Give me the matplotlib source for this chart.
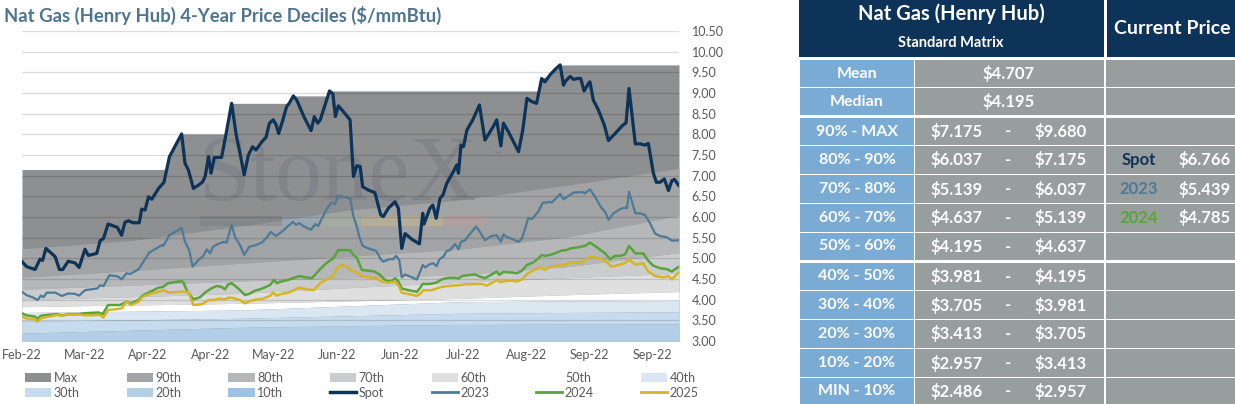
import matplotlib
matplotlib.use('Agg')
import matplotlib.pyplot as plt
from matplotlib.patches import Patch, Rectangle
from matplotlib.lines import Line2D

plt.rcParams['font.family'] = ['Lato', 'DejaVu Sans']

# ---- x axis: trading-day index, a label every 15 days ----
tick_days = [0, 15, 30, 45, 60, 75, 90, 105, 120, 135, 150]
tick_labels = ['Feb-22', 'Mar-22', 'Apr-22', 'Apr-22', 'May-22', 'Jun-22',
               'Jun-22', 'Jul-22', 'Aug-22', 'Sep-22', 'Sep-22']
last_day = 156.4

# ---- price lines ----
spot_day = [0, 1.1, 3.1, 4.3, 4.9, 5.7, 6.7, 7.9, 8.9, 9.7, 11.0, 12.6, 13.6, 15.0, 15.8,
            17.8, 18.6, 19.4, 20.5, 22.7, 23.7, 24.5, 25.3, 26.5, 27.9, 28.5, 29.3, 30.1,
            30.9, 32.5, 33.8, 35.1, 38.0, 38.8, 39.6, 40.8, 42.0, 43.0, 43.6, 44.4, 45.0,
            45.8, 47.5, 48.3, 49.9, 51.0, 51.9, 52.9, 53.9, 54.9, 55.7, 57.1, 58.1, 58.9,
            59.8, 60.5, 61.1, 62.1, 63.0, 63.6, 64.6, 65.4, 67.1, 68.8, 69.6, 70.4, 71.0,
            73.2, 74.0, 74.6, 75.3, 76.5, 78.1, 78.9, 79.7, 80.5, 81.1, 82.5, 84.0, 85.4,
            86.0, 87.2, 88.8, 89.6, 90.4, 91.2, 92.8, 94.6, 95.4, 95.7, 97.1, 97.8, 98.6,
            99.5, 100.2, 101.1, 102.7, 103.5, 103.9, 104.5, 105.1, 105.9, 107.3, 108.9,
            110.2, 112.2, 113.0, 114.0, 114.6, 115.8, 118.2, 119.2, 120.2, 121.4, 122.5,
            123.7, 124.5, 125.7, 126.9, 128.1, 128.9, 129.5, 130.5, 131.3, 132.2, 133.0,
            133.8, 134.8, 135.2, 136.0, 137.2, 138.6, 139.6, 141.2, 142.8, 143.8, 144.5,
            146.0, 147.1, 148.3, 149.1, 150.3, 151.0, 151.9, 152.9, 153.9, 154.7, 155.3, 156.3]
spot = [4.92, 4.80, 4.73, 4.98, 4.95, 5.24, 5.15, 5.04, 4.73, 4.73, 4.93, 4.89, 4.78, 5.22, 5.07,
        5.12, 5.43, 5.48, 5.83, 5.75, 5.56, 5.87, 5.91, 5.86, 5.86, 6.19, 6.17, 6.49,
        6.43, 6.69, 6.84, 7.46, 8.01, 7.30, 7.14, 6.69, 6.77, 6.85, 6.98, 7.46, 7.06,
        7.44, 7.44, 7.86, 8.75, 7.98, 7.54, 7.02, 7.50, 7.70, 7.62, 7.82, 7.93, 8.27,
        8.35, 8.23, 8.02, 8.35, 8.67, 8.75, 8.93, 8.83, 8.43, 8.09, 8.43, 8.27, 8.35,
        9.05, 8.98, 8.43, 8.69, 8.55, 8.35, 6.98, 7.24, 7.22, 6.73, 6.65, 6.59, 6.05,
        6.01, 6.21, 6.37, 6.21, 5.24, 5.60, 5.46, 5.35, 6.09, 5.83, 6.21, 6.29, 5.97,
        6.45, 6.53, 6.81, 7.10, 7.26, 7.06, 7.74, 7.70, 8.10, 8.35, 8.71,
        7.86, 8.19, 8.35, 7.72, 8.27, 8.06, 7.58, 8.10, 8.87, 8.79, 8.75,
        9.35, 9.27, 9.44, 9.57, 9.68, 9.19, 9.30, 9.40, 9.33, 9.35, 9.35,
        9.05, 9.22, 9.27, 8.83, 8.59, 8.23, 7.85, 8.02, 8.20, 8.28, 9.11,
        7.77, 7.77, 7.74, 7.78, 7.06, 6.84, 6.84, 6.92, 6.64, 6.88, 6.91, 6.77]

y2023_day = [0, 1.1, 2.7, 3.7, 4.5, 5.1, 5.9, 7.9, 9.5, 11.0, 12.6, 13.6, 15.0, 17.9, 18.6,
             19.4, 20.8, 22.4, 22.9, 23.7, 24.9, 25.7, 27.7, 29.3, 30.3, 33.3, 33.6, 35.1,
             38.0, 38.8, 39.8, 40.6, 42.0, 43.2, 44.0, 44.8, 45.5, 46.7, 48.1, 48.7, 49.9,
             50.7, 51.9, 52.9, 54.1, 55.7, 57.1, 58.4, 59.2, 60.4, 61.8, 63.2, 64.5, 65.2,
             66.0, 67.0, 68.8, 69.8, 70.5, 72.5, 73.7, 74.5, 75.3, 76.5, 78.1, 78.9, 79.7,
             80.3, 81.1, 82.5, 84.3, 85.4, 86.0, 87.5, 88.4, 89.0, 89.8, 90.4, 91.2, 92.8,
             94.0, 94.8, 95.4, 96.0, 97.1, 97.9, 98.7, 99.4, 100.3, 101.1, 101.9, 103.1,
             103.9, 104.5, 105.5, 106.7, 108.1, 109.0, 110.2, 111.8, 113.0, 114.0, 114.6,
             115.4, 116.6, 118.2, 119.0, 119.8, 120.5, 121.4, 122.9, 124.0, 124.9, 125.5,
             126.1, 127.3, 128.1, 128.9, 130.1, 131.3, 132.5, 133.6, 134.0, 135.2, 136.4,
             138.0, 138.8, 139.6, 140.8, 142.4, 143.6, 144.0, 144.5, 146.0, 147.1, 148.3,
             149.5, 150.7, 151.9, 153.5, 154.7, 155.9, 156.3]
y2023 = [4.19, 4.11, 4.05, 3.99, 4.10, 4.06, 4.17, 4.17, 4.09, 4.15, 4.14, 4.10, 4.23, 4.27, 4.35,
         4.33, 4.59, 4.57, 4.56, 4.49, 4.64, 4.62, 4.73, 4.98, 5.14, 5.32, 5.30, 5.56,
         5.73, 5.40, 5.20, 4.80, 4.96, 5.06, 5.22, 5.12, 5.28, 5.35, 5.40, 5.38, 5.81,
         5.52, 5.32, 5.08, 5.28, 5.32, 5.38, 5.52, 5.64, 5.54, 5.64, 5.77, 5.88, 5.81,
         5.85, 5.78, 5.69, 5.83, 5.78, 6.19, 6.35, 6.31, 6.52, 6.49, 6.45, 6.01, 5.77,
         5.52, 5.30, 5.24, 5.18, 4.98, 4.92, 4.98, 4.98, 5.06, 4.96, 4.54, 4.61, 4.54,
         4.49, 4.68, 4.84, 4.78, 4.86, 4.88, 4.81, 4.98, 5.04, 5.18, 5.20, 5.35,
         5.22, 5.40, 5.44, 5.60, 5.77, 5.64, 5.44, 5.54, 5.56, 5.40, 5.58,
         5.52, 5.47, 5.40, 5.48, 5.73, 5.97, 5.95, 6.13, 6.35, 6.35, 6.37,
         6.35, 6.47, 6.56, 6.43, 6.51, 6.59, 6.60, 6.60, 6.57, 6.67, 6.49,
         6.21, 6.13, 5.93, 6.09, 6.19, 6.23, 6.21, 6.61, 6.09, 6.09, 6.05,
         5.85, 5.60, 5.54, 5.51, 5.43, 5.43, 5.44]

y2024_day = [0, 1.1, 3.1, 3.6, 4.5, 5.9, 8.3, 9.5, 11.0, 13.4, 14.6, 18.2, 19.2, 20.5, 23.3,
             24.9, 25.9, 27.7, 28.7, 30.5, 32.5, 33.6, 34.8, 38.0, 38.4, 39.4, 40.8, 42.4,
             43.8, 45.2, 46.4, 47.5, 48.3, 49.1, 49.9, 51.5, 53.1, 54.3, 55.5, 56.7, 59.0,
             60.0, 60.6, 61.8, 63.4, 65.0, 66.2, 67.6, 69.0, 70.8, 72.5, 74.1, 75.3, 78.1,
             78.9, 79.7, 80.9, 82.5, 84.0, 85.2, 86.7, 88.0, 88.8, 89.6, 90.4, 92.0, 94.0,
             94.8, 95.4, 97.1, 98.6, 99.9, 101.5, 103.3, 103.9, 104.7, 105.9, 107.9, 109.0,
             110.2, 111.8, 113.0, 113.6, 114.6, 116.2, 117.8, 119.0, 120.2, 121.7, 122.9,
             123.7, 124.5, 125.7, 127.3, 128.5, 129.7, 130.5, 132.5, 134.0, 135.2, 136.4,
             138.8, 140.0, 141.2, 142.4, 143.6, 144.5, 146.0, 147.9, 149.1, 150.3, 151.9,
             153.5, 154.7, 155.5, 156.3]
y2024 = [3.67, 3.62, 3.59, 3.53, 3.61, 3.63, 3.65, 3.62, 3.65, 3.65, 3.67, 3.69, 3.65, 3.87, 3.87,
         3.95, 3.91, 3.99, 4.10, 4.19, 4.29, 4.31, 4.40, 4.45, 4.42, 4.19, 4.01, 4.06,
         4.19, 4.28, 4.33, 4.31, 4.25, 4.37, 4.40, 4.27, 4.11, 4.15, 4.22, 4.25, 4.35,
         4.48, 4.40, 4.44, 4.48, 4.54, 4.57, 4.54, 4.52, 4.72, 4.89, 5.00, 5.20, 5.20,
         5.08, 5.02, 4.72, 4.70, 4.68, 4.60, 4.45, 4.45, 4.52, 4.44, 4.27, 4.23, 4.19,
         4.29, 4.38, 4.38, 4.41, 4.49, 4.53, 4.53, 4.51, 4.57, 4.59, 4.61, 4.56,
         4.52, 4.61, 4.68, 4.60, 4.67, 4.66, 4.64, 4.70, 4.84, 4.90, 5.00,
         5.08, 5.06, 5.08, 5.14, 5.19, 5.20, 5.24, 5.27, 5.30, 5.38, 5.30,
         5.12, 4.98, 5.06, 5.06, 5.10, 5.30, 5.12, 5.12, 4.94, 4.82, 4.76,
         4.74, 4.68, 4.74, 4.79]

y2025_day = [0, 1.5, 3.1, 3.6, 4.5, 6.3, 8.3, 9.5, 11.0, 13.8, 15.0, 18.6, 19.4, 20.5, 22.4,
             23.7, 24.9, 25.9, 27.7, 28.7, 30.5, 32.5, 33.8, 34.8, 38.0, 39.6, 40.8, 42.8,
             44.4, 45.5, 47.1, 48.3, 49.1, 50.3, 51.9, 53.1, 54.3, 55.7, 57.5, 59.0, 59.8,
             60.6, 61.8, 63.4, 64.6, 65.8, 67.4, 69.4, 71.0, 72.5, 74.0, 74.9, 76.1, 77.3,
             78.5, 79.7, 80.9, 82.5, 84.3, 85.6, 87.2, 88.8, 89.6, 90.4, 92.4, 94.0, 94.8,
             95.6, 97.5, 98.7, 99.9, 101.5, 103.9, 105.5, 107.9, 109.5, 110.6, 112.2, 113.2,
             113.8, 115.0, 116.6, 117.8, 119.0, 120.2, 122.1, 123.3, 124.5, 125.7, 127.3,
             129.3, 130.5, 133.3, 134.3, 135.2, 137.2, 138.8, 140.4, 142.4, 143.6, 144.4,
             146.0, 147.9, 149.1, 150.7, 152.7, 153.9, 154.7, 156.3]
y2025 = [3.59, 3.53, 3.53, 3.47, 3.55, 3.59, 3.63, 3.61, 3.64, 3.64, 3.62, 3.63, 3.57, 3.75, 3.77,
         3.79, 3.95, 3.87, 3.95, 4.07, 4.14, 4.19, 4.23, 4.17, 4.19, 4.19, 3.87, 3.89,
         3.99, 3.99, 4.03, 4.00, 4.05, 4.04, 3.99, 3.91, 3.97, 4.00, 4.03, 4.09, 4.17,
         4.10, 4.14, 4.17, 4.22, 4.29, 4.26, 4.23, 4.40, 4.49, 4.56, 4.76, 4.84, 4.80,
         4.70, 4.66, 4.56, 4.54, 4.52, 4.44, 4.41, 4.44, 4.35, 4.17, 4.13, 4.09, 4.15,
         4.23, 4.23, 4.27, 4.31, 4.33, 4.35, 4.37, 4.38, 4.38, 4.34, 4.42, 4.49,
         4.42, 4.45, 4.46, 4.44, 4.49, 4.62, 4.73, 4.78, 4.72, 4.80, 4.82,
         4.84, 4.90, 4.90, 4.98, 5.04, 5.00, 4.94, 4.80, 4.85, 4.89, 4.98,
         4.85, 4.88, 4.68, 4.57, 4.54, 4.57, 4.49, 4.65]

# ---- decile bands (value of each decile along the period) ----
max_day = [0, 34.4, 35.1, 38.0, 48.6, 49.9, 63.6, 64.6, 72.8, 73.2, 123.1, 123.7, 125.7,
           126.9, 128.1, 156.4]
p_max = [7.15, 7.15, 7.46, 8.01, 8.01, 8.75, 8.75, 8.93, 8.93, 9.05, 9.05, 9.35, 9.44,
         9.57, 9.68, 9.68]
band_day = [0, 26, 52, 78, 104, 130, 156.4]
p90 = [5.23, 5.43, 5.78, 6.17, 6.41, 6.77, 7.175]
p80 = [4.54, 4.70, 4.88, 5.05, 5.22, 5.52, 6.037]
p70 = [4.25, 4.35, 4.45, 4.53, 4.60, 4.80, 5.139]
p60 = [4.00, 4.07, 4.15, 4.29, 4.42, 4.53, 4.637]
p50 = [3.83, 3.87, 3.91, 3.97, 4.03, 4.12, 4.195]
p40 = [3.69, 3.72, 3.75, 3.85, 3.95, 3.97, 3.981]
p30 = [3.48, 3.51, 3.55, 3.61, 3.67, 3.69, 3.705]
p20 = [3.19, 3.26, 3.33, 3.37, 3.40, 3.41, 3.413]
p10 = [2.75, 2.82, 2.88, 2.92, 2.94, 2.95, 2.957]

# ---- matrix table ----
stat_labels = ['Mean', 'Median']
stat_values = ['$4.707', '$4.195']
decile_labels = ['90% - MAX', '80% - 90%', '70% - 80%', '60% - 70%', '50% - 60%',
                 '40% - 50%', '30% - 40%', '20% - 30%', '10% - 20%', 'MIN - 10%']
decile_low = [7.175, 6.037, 5.139, 4.637, 4.195, 3.981, 3.705, 3.413, 2.957, 2.486]
decile_high = [9.680, 7.175, 6.037, 5.139, 4.637, 4.195, 3.981, 3.705, 3.413, 2.957]
current_names = ['', 'Spot', '2023', '2024', '', '', '', '', '', '']
current_prices = [None, 6.766, 5.439, 4.785, None, None, None, None, None, None]

NAVY = '#0d3358'
C2023 = '#4d7a96'
C2024 = '#5aa33c'
C2025 = '#d4b526'
band_colors = {'Max': '#8e8f91', '90th': '#a2a3a5', '80th': '#b6b7b9', '70th': '#cbcccd',
               '60th': '#dfdfe0', '50th': '#ffffff', '40th': '#dae7f2', '30th': '#c6dcee',
               '20th': '#b3cfe7', '10th': '#9dc2e3'}

fig = plt.figure(figsize=(12.35, 4.04), dpi=100)
W, H = 1235, 404
ax = fig.add_axes([22 / W, 63 / H, 657 / W, 310 / H])

# bands
ax.fill_between(max_day, 0, p_max, color=band_colors['Max'], lw=0, zorder=1)
levels = [p90, p80, p70, p60, p50, p40, p30, p20, p10]
names = ['90th', '80th', '70th', '60th', '50th', '40th', '30th', '20th', '10th']
for i, name in enumerate(names):
    lower = levels[i + 1] if i + 1 < len(levels) else [0] * len(band_day)
    ax.fill_between(band_day, lower, levels[i], color=band_colors[name], lw=0, zorder=1)

# watermark
ax.text(0.481, 0.455, 'StoneX', transform=ax.transAxes, ha='center', va='baseline',
        fontsize=67, family='Liberation Serif', color='#6c737a', alpha=0.38, zorder=2.2)
ax.text(0.722, 0.585, '\u2122', transform=ax.transAxes, ha='center', va='baseline',
        fontsize=9, color='#6c737a', alpha=0.35, zorder=2.2)
bar_edges = [0.271, 0.396, 0.457, 0.518, 0.641, 0.705]
bar_cols = ['#6f757b', '#8fb0cc', '#a9c49a', '#e4c77a', '#d69494']
for x0, x1, c in zip(bar_edges[:-1], bar_edges[1:], bar_cols):
    ax.add_patch(Rectangle((x0, 0.371), x1 - x0, 0.032, transform=ax.transAxes,
                           color=c, alpha=0.3, lw=0, zorder=2.2))

# lines
ax.plot(spot_day, spot, color=NAVY, lw=2.3, zorder=3, solid_joinstyle='round')
ax.plot(y2023_day, y2023, color=C2023, lw=1.6, zorder=3)
ax.plot(y2024_day, y2024, color=C2024, lw=1.8, zorder=3)
ax.plot(y2025_day, y2025, color=C2025, lw=1.8, zorder=3)

ax.set_xlim(0, last_day)
ax.set_ylim(3.0, 10.5)
ax.set_yticks([3.0 + 0.5 * i for i in range(16)])
ax.yaxis.set_major_formatter(matplotlib.ticker.FormatStrFormatter('%.2f'))
ax.yaxis.tick_right()
ax.set_xticks(tick_days)
ax.set_xticklabels(tick_labels)
ax.tick_params(axis='y', length=0, pad=9, labelsize=9, labelcolor='#595959')
ax.tick_params(axis='x', length=0, pad=6, labelsize=9, labelcolor='#595959')
ax.grid(axis='y', color='black', alpha=0.14, lw=0.9)
ax.set_axisbelow(False)
for s in ax.spines.values():
    s.set_visible(False)

# legend in rows of seven
handles = [Patch(color=band_colors[n], lw=0) for n in ['Max'] + names]
handles += [Line2D([], [], color=NAVY, lw=2.5), Line2D([], [], color=C2023, lw=2),
            Line2D([], [], color=C2024, lw=2), Line2D([], [], color=C2025, lw=2)]
labels = ['Max'] + names + ['Spot', '2023', '2024', '2025']
order = [j for i in range(7) for j in (i, i + 7)]
fig.legend([handles[k] for k in order], [labels[k] for k in order], ncol=7,
           loc='upper left', bbox_to_anchor=(25 / W, 1 - 372 / H), frameon=False,
           fontsize=9, handlelength=2.1, handleheight=0.7, handletextpad=0.2,
           columnspacing=3.75, labelspacing=0.22, borderpad=0, borderaxespad=0,
           labelcolor='#595959')

# title
fig.text(4 / W, 1 - 15 / H, 'Nat Gas (Henry Hub) 4-Year Price Deciles ($/mmBtu)',
         ha='left', va='center', fontsize=13.3, fontweight='bold', color='#4d7590')

# ---- table (drawn in pixel space) ----
tax = fig.add_axes([0, 0, 1, 1])
tax.set_xlim(0, W)
tax.set_ylim(H, 0)
tax.axis('off')

BLUE = '#7aabd4'
GRAY = '#989e9d'
tax.add_patch(Rectangle((799, 0), 305, 57, color=NAVY, lw=0))
tax.add_patch(Rectangle((1107, 0), 128, 57, color=NAVY, lw=0))
tax.text(951, 14, 'Nat Gas (Henry Hub)', ha='center', va='center', color='white',
         fontsize=14.5, fontweight='bold')
tax.text(951, 43, 'Standard Matrix', ha='center', va='center', color='white',
         fontsize=10.5, fontweight='bold')
tax.text(1172, 28, 'Current Price', ha='center', va='center', color='white',
         fontsize=14, fontweight='bold')

row_tops = [60, 88, 118, 146, 175, 204, 233, 263, 291, 320, 349, 378]
row_bottoms = [87, 115, 145, 174, 203, 232, 260, 290, 319, 348, 377, 404]
row_labels = stat_labels + decile_labels
name_colors = {'Spot': NAVY, '2023': C2023, '2024': C2024}
for r, (top, bot) in enumerate(zip(row_tops, row_bottoms)):
    h = bot - top
    yc = top + h / 2
    tax.add_patch(Rectangle((800, top), 114, h, color=BLUE, lw=0))
    tax.add_patch(Rectangle((915, top), 189, h, color=GRAY, lw=0))
    tax.add_patch(Rectangle((1106, top), 129, h, color=GRAY, lw=0))
    tax.text(857, yc, row_labels[r], ha='center', va='center', color='white',
             fontsize=11.5, fontweight='bold')
    if r < 2:
        tax.text(1009, yc, stat_values[r], ha='center', va='center', color='white',
                 fontsize=12, fontweight='bold')
        continue
    k = r - 2
    tax.text(957, yc, '$%.3f' % decile_low[k], ha='center', va='center', color='white',
             fontsize=12, fontweight='bold')
    tax.text(1008, yc, '-', ha='center', va='center', color='white',
             fontsize=12, fontweight='bold')
    tax.text(1061, yc, '$%.3f' % decile_high[k], ha='center', va='center', color='white',
             fontsize=12, fontweight='bold')
    if current_prices[k] is not None:
        tax.text(1139, yc, current_names[k], ha='center', va='center',
                 color=name_colors[current_names[k]], fontsize=12, fontweight='bold')
        tax.text(1205, yc, '$%.3f' % current_prices[k], ha='center', va='center',
                 color='white', fontsize=12, fontweight='bold')

fig.savefig('out.png', dpi=100)
